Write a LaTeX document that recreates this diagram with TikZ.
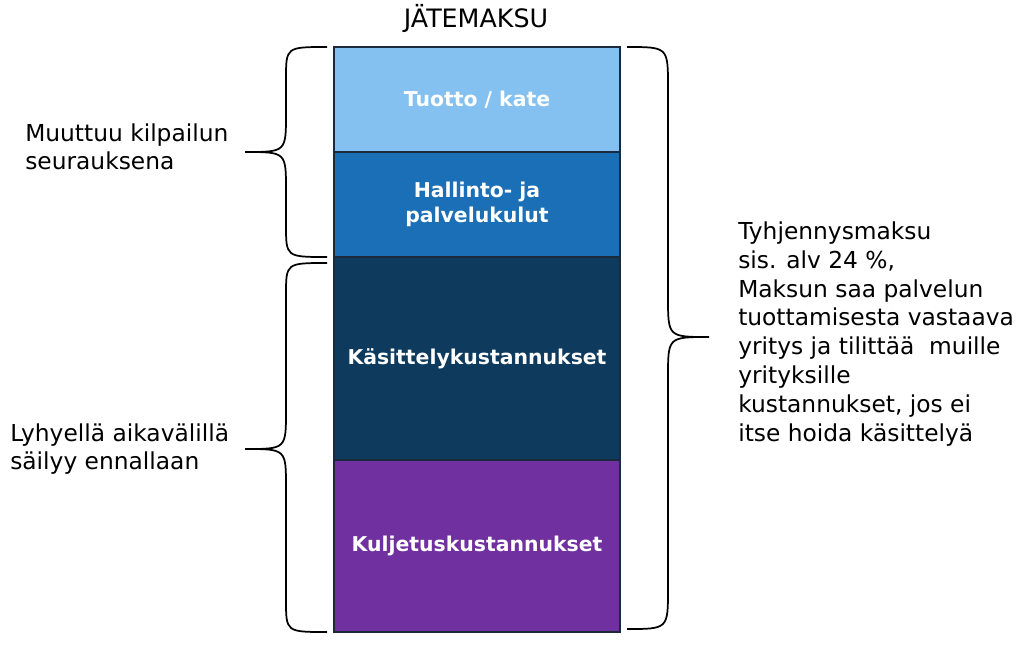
\documentclass[tikz,border=0pt]{standalone}
\usepackage{fontspec}
\setmainfont{DejaVu Sans}
\usetikzlibrary{positioning}
\definecolor{kate}{HTML}{85C1F0}
\definecolor{hallinto}{HTML}{1A6FB6}
\definecolor{kasittely}{HTML}{0D3A5D}
\definecolor{kuljetus}{HTML}{7030A0}
\definecolor{reuna}{HTML}{1B2A3A}
\newcommand{\kaari}[8]{%
  \draw[sulku] (#1,#4) .. controls (#2,#4) .. (#2,#4+#7) -- (#2,#5-#8)
    .. controls (#2,#5) .. (#3,#5) .. controls (#2,#5) .. (#2,#5+#8)
    -- (#2,#6-#7) .. controls (#2,#6) .. (#1,#6);}
\begin{document}
\begin{tikzpicture}[x=0.75pt, y=-0.75pt,
  osa/.style={draw=reuna, line width=0.8pt, outer sep=0pt, minimum width=214.5pt,
    text=white, align=center, font=\fontsize{15.3}{18.8}\selectfont\bfseries},
  teksti/.style={inner sep=0pt, align=left, font=\fontsize{17.5}{21}\selectfont},
  sulku/.style={line width=1.3pt}]
  \useasboundingbox (0,0) rectangle (1024,647);
  \node[teksti, font=\fontsize{19}{22}\selectfont] (otsikko) at (476,18) {JÄTEMAKSU};
  \node[osa, fill=kate, minimum height=78.75pt] (tuotto) at (477,99.5) {Tuotto / kate};
  \node[osa, fill=hallinto, minimum height=78.75pt, below=0pt of tuotto] (hallinto) {Hallinto- ja\\palvelukulut};
  \node[osa, fill=kasittely, minimum height=152.25pt, below=0pt of hallinto] (kasittely) {Käsittelykustannukset};
  \node[osa, fill=kuljetus, minimum height=129pt, below=0pt of kasittely] (kuljetus) {Kuljetuskustannukset};
  \kaari{327}{286}{245}{47}{152}{257}{32}{38}
  \kaari{327}{286}{245}{263}{449}{632}{32}{38}
  \kaari{627}{668}{709}{47}{337}{629}{40}{40}
  \node[teksti, anchor=west] (kilpailu) at (25,147) {Muuttuu kilpailun\\seurauksena};
  \node[teksti, anchor=west] (lyhyt) at (10,449) {Lyhyellä aikavälillä\\säilyy ennallaan};
  \node[teksti, anchor=west, font=\fontsize{17.5}{21.7}\selectfont] (tyhjennys) at (738,334) {Tyhjennysmaksu\\sis. alv 24 \%,\\Maksun saa palvelun\\tuottamisesta vastaava\\yritys ja tilittää\ \ muille\\yrityksille\\kustannukset, jos ei\\itse hoida käsittelyä};
\end{tikzpicture}
\end{document}
